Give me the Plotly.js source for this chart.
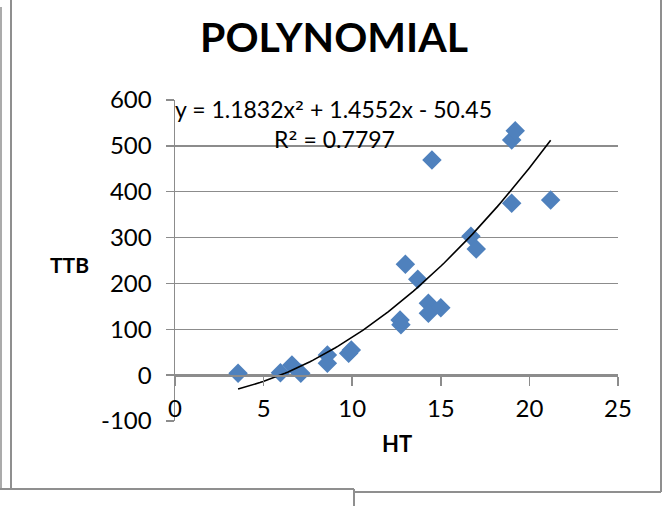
<!DOCTYPE html>
<html>
<head>
<meta charset="utf-8">
<script src="https://cdn.plot.ly/plotly-3.0.1.min.js"></script>
<style>
  html, body { margin: 0; padding: 0; background: #ffffff; }
  #chart { width: 668px; height: 506px; }
</style>
</head>
<body>
<div id="chart"></div>
<script>
// Height (HT) against TTB, one diamond per sample
const ht  = [3.56, 5.95, 6.6, 7.1, 8.6, 8.6, 9.8, 9.95, 12.7, 12.75, 13.0, 13.7, 14.3, 14.3, 15.0, 14.5, 16.7, 17.0, 19.0, 19.0, 19.2, 21.2];
const ttb = [4, 5, 22, 4, 44, 26, 48, 55, 120, 110, 242, 209, 157, 135, 147, 469, 303, 275, 375, 513, 533, 382];

// Second-order polynomial trendline, coefficients as printed on the chart
const polyCoef = [1.1832, 1.4552, -50.45];   // a, b, c in a*x^2 + b*x + c
const rSquared = 0.7797;

const xTicks = [0, 5, 10, 15, 20, 25];
const yTicks = [-100, 0, 100, 200, 300, 400, 500, 600];

// trendline sampled across the observed HT range
const xMin = Math.min(...ht), xMax = Math.max(...ht);
const fitX = [], fitY = [];
for (let i = 0; i <= 100; i++) {
  const x = xMin + (xMax - xMin) * i / 100;
  fitX.push(x);
  fitY.push(polyCoef[0] * x * x + polyCoef[1] * x + polyCoef[2]);
}

// plot-area geometry in page pixels
const W = 668, H = 506;
const L = 175, R = 618, T = 100, B = 421;
const px = v => (v - L) / (R - L);
const py = v => (B - v) / (B - T);

const FONT = 'Lato, "Open Sans", sans-serif';
const GRID = '#8c8c8c';
const FRAME = '#8f8f8f';
// squared sign set in a face whose superscript glyph is full-sized
const SQ = '<span style="font-family:\'DejaVu Sans\'">²</span>';

function frameLine(x0, y0, x1, y1, w) {
  return { type: 'line', xref: 'paper', yref: 'paper',
           x0: px(x0), y0: py(y0), x1: px(x1), y1: py(y1),
           line: { color: FRAME, width: w || 2 } };
}

const traces = [
  {
    x: ht, y: ttb, type: 'scatter', mode: 'markers',
    marker: { symbol: 'diamond', size: 15, color: '#4F81BD', line: { width: 0 } },
    hoverinfo: 'x+y'
  },
  {
    x: fitX, y: fitY, type: 'scatter', mode: 'lines',
    line: { color: '#000000', width: 1.6 }, hoverinfo: 'skip'
  }
];

const yRange = [yTicks[0], yTicks[yTicks.length - 1]];
const zeroFrac = (0 - yRange[0]) / (yRange[1] - yRange[0]);

const layout = {
  width: W, height: H, autosize: false,
  margin: { l: L, r: W - R, t: T, b: H - B, pad: 0 },
  paper_bgcolor: '#ffffff', plot_bgcolor: '#ffffff',
  showlegend: false,
  font: { family: FONT, color: '#000000', size: 24 },
  title: {
    text: '<b>POLYNOMIAL</b>',
    font: { family: FONT, size: 41, color: '#000000' },
    xref: 'container', x: 0.5, xanchor: 'center',
    yref: 'container', y: 1 - 38 / H, yanchor: 'middle'
  },
  xaxis: {
    range: [xTicks[0], xTicks[xTicks.length - 1]],
    tickvals: xTicks, ticktext: xTicks.map(String),
    anchor: 'free', position: zeroFrac,
    showgrid: false, zeroline: false,
    showline: true, linecolor: GRID, linewidth: 1.5,
    ticks: 'outside', ticklen: 9, tickwidth: 1.5, tickcolor: GRID,
    ticklabelstandoff: 3,
    tickfont: { family: FONT, size: 24, color: '#000000' },
    fixedrange: true
  },
  yaxis: {
    range: yRange,
    tickvals: yTicks, ticktext: yTicks.map(String),
    showgrid: true, gridcolor: GRID, gridwidth: 1.5,
    zeroline: false,
    showline: true, linecolor: GRID, linewidth: 1.5,
    ticks: 'outside', ticklen: 8, tickwidth: 1.5, tickcolor: GRID,
    ticklabelstandoff: 9,
    tickfont: { family: FONT, size: 24, color: '#000000' },
    fixedrange: true
  },
  annotations: [
    { text: 'y = ' + polyCoef[0] + 'x' + SQ + ' + ' + polyCoef[1] + 'x - ' + Math.abs(polyCoef[2]),
      xref: 'paper', yref: 'paper', x: px(333), y: py(109),
      xanchor: 'center', yanchor: 'middle', showarrow: false,
      font: { family: FONT, size: 23, color: '#000000' } },
    { text: 'R' + SQ + ' = ' + rSquared,
      xref: 'paper', yref: 'paper', x: px(334), y: py(139),
      xanchor: 'center', yanchor: 'middle', showarrow: false,
      font: { family: FONT, size: 23, color: '#000000' } },
    { text: '<b>TTB</b>',
      xref: 'paper', yref: 'paper', x: px(69), y: py(264),
      xanchor: 'center', yanchor: 'middle', showarrow: false,
      font: { family: FONT, size: 21, color: '#000000' } },
    { text: '<b>HT</b>',
      xref: 'paper', yref: 'paper', x: px(397), y: py(443),
      xanchor: 'center', yanchor: 'middle', showarrow: false,
      font: { family: FONT, size: 22, color: '#000000' } }
  ],
  shapes: [
    frameLine(1, 7, 1, 489, 1.5),
    frameLine(11, 0, 11, 489, 2),
    frameLine(0, 489, 354, 489, 2),
    frameLine(354, 489, 354, 506, 2),
    frameLine(354, 492, 661, 492, 2),
    frameLine(661, 0, 661, 492, 2)
  ]
};

Plotly.newPlot('chart', traces, layout, { displayModeBar: false, staticPlot: true });
</script>
</body>
</html>
